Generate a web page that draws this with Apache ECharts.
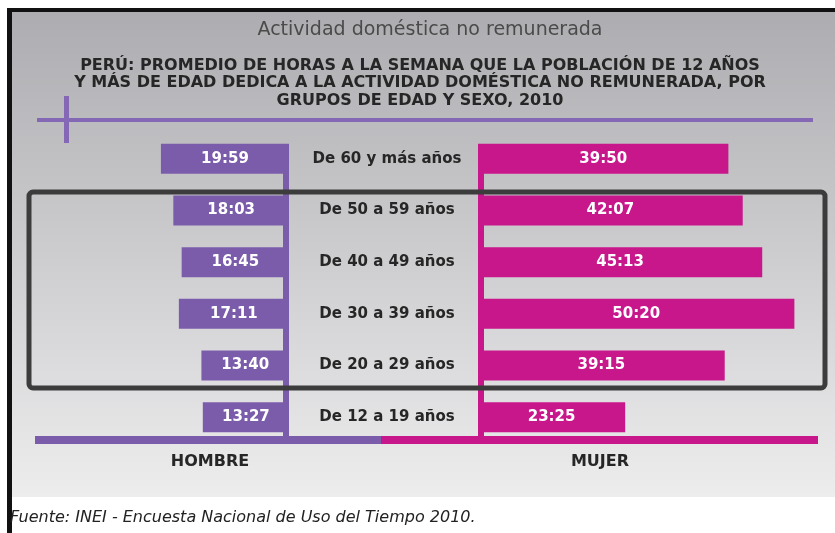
<!DOCTYPE html>
<html>
<head>
<meta charset="utf-8">
<script src="https://cdn.jsdelivr.net/npm/echarts@6/dist/echarts.min.js"></script>
<style>
  html, body { margin: 0; padding: 0; background: #fff; }
  #chart { width: 835px; height: 533px; }
</style>
</head>
<body>
<div id="chart"></div>
<script>
// grupos de edad, de arriba hacia abajo
var categories = ['De 60 y más años', 'De 50 a 59 años', 'De 40 a 49 años', 'De 30 a 39 años', 'De 20 a 29 años', 'De 12 a 19 años'];
// horas:minutos por semana
var hombre = ['19:59', '18:03', '16:45', '17:11', '13:40', '13:27'];
var mujer = ['39:50', '42:07', '45:13', '50:20', '39:15', '23:25'];

var PURPLE = '#7b5cab';
var MAGENTA = '#c8168b';
var FONT = '"DejaVu Sans"';

function toHours(s) {
    var p = s.split(':');
    return +p[0] + (+p[1]) / 60;
}

function barData(list) {
    return list.map(function (s) {
        return { value: toHours(s), text: s };
    });
}

var chart = echarts.init(document.getElementById('chart'));

var option = {
    animation: false,
    backgroundColor: '#ffffff',
    graphic: [
        // fondo gris degradado
        {
            type: 'rect', z: -10, silent: true,
            shape: { x: 12, y: 12, width: 823, height: 485 },
            style: {
                fill: new echarts.graphic.LinearGradient(0, 0, 0, 1, [
                    { offset: 0, color: '#adadb1' },
                    { offset: 1, color: '#ededee' }
                ])
            }
        },
        // marco negro
        { type: 'rect', z: -5, silent: true, shape: { x: 8, y: 8, width: 827, height: 4 }, style: { fill: '#111' } },
        { type: 'rect', z: -5, silent: true, shape: { x: 7, y: 8, width: 5, height: 525 }, style: { fill: '#111' } },
        // linea morada superior
        { type: 'rect', silent: true, shape: { x: 37, y: 118, width: 776, height: 4 }, style: { fill: '#8467b5' } },
        { type: 'rect', silent: true, shape: { x: 64, y: 96, width: 5, height: 47 }, style: { fill: '#8467b5' } },
        // ejes centrales
        { type: 'rect', silent: true, shape: { x: 283, y: 145, width: 6, height: 295 }, style: { fill: PURPLE } },
        { type: 'rect', silent: true, shape: { x: 478, y: 145, width: 6, height: 295 }, style: { fill: MAGENTA } },
        // barra inferior
        { type: 'rect', silent: true, shape: { x: 35, y: 436, width: 346, height: 8 }, style: { fill: PURPLE } },
        { type: 'rect', silent: true, shape: { x: 381, y: 436, width: 437, height: 8 }, style: { fill: MAGENTA } },
        // recuadro
        {
            type: 'rect', z: 100, silent: true,
            shape: { x: 29, y: 192, width: 796, height: 196, r: 4 },
            style: { fill: 'none', stroke: '#3c3c3c', lineWidth: 5 }
        },
        // textos
        {
            type: 'text', silent: true, x: 430, y: 30,
            style: { text: 'Actividad doméstica no remunerada', fill: '#4a4a4a', font: '19px ' + FONT, textAlign: 'center', textVerticalAlign: 'middle' }
        },
        {
            type: 'text', silent: true, x: 420, y: 57,
            style: {
                text: 'PERÚ: PROMEDIO DE HORAS A LA SEMANA QUE LA POBLACIÓN DE 12 AÑOS\nY MÁS DE EDAD DEDICA A LA ACTIVIDAD DOMÉSTICA NO REMUNERADA, POR\nGRUPOS DE EDAD Y SEXO, 2010',
                fill: '#262626', font: 'bold 16px ' + FONT, lineHeight: 17.5, textAlign: 'center'
            }
        },
        {
            type: 'text', silent: true, x: 210, y: 462,
            style: { text: 'HOMBRE', fill: '#262626', font: 'bold 16px ' + FONT, textAlign: 'center', textVerticalAlign: 'middle' }
        },
        {
            type: 'text', silent: true, x: 600, y: 462,
            style: { text: 'MUJER', fill: '#262626', font: 'bold 16px ' + FONT, textAlign: 'center', textVerticalAlign: 'middle' }
        },
        {
            type: 'text', silent: true, x: 10, y: 518,
            style: { text: 'Fuente: INEI - Encuesta Nacional de Uso del Tiempo 2010.', fill: '#222', font: 'italic 16px ' + FONT, textVerticalAlign: 'middle' }
        }
    ],
    grid: [
        { left: 148, width: 141, top: 133, height: 310 },
        { left: 478, width: 352, top: 133, height: 310 }
    ],
    xAxis: [
        { gridIndex: 0, type: 'value', min: 0, max: 22, inverse: true, show: false },
        { gridIndex: 1, type: 'value', min: 0, max: 56, show: false }
    ],
    yAxis: [
        {
            gridIndex: 0, type: 'category', data: categories, inverse: true, position: 'right',
            axisLine: { show: false }, axisTick: { show: false }, axisLabel: { show: false }
        },
        {
            gridIndex: 1, type: 'category', data: categories, inverse: true, position: 'left',
            axisLine: { show: false }, axisTick: { show: false },
            axisLabel: {
                show: true, align: 'center', margin: 91,
                color: '#262626', fontFamily: 'DejaVu Sans', fontWeight: 'bold', fontSize: 15
            }
        }
    ],
    series: [
        {
            name: 'HOMBRE', type: 'bar', xAxisIndex: 0, yAxisIndex: 0,
            data: barData(hombre), barWidth: 30,
            itemStyle: { color: PURPLE },
            label: {
                show: true, position: 'inside', color: '#fff',
                fontFamily: 'DejaVu Sans', fontWeight: 'bold', fontSize: 15,
                formatter: function (p) { return p.data.text; }
            }
        },
        {
            name: 'MUJER', type: 'bar', xAxisIndex: 1, yAxisIndex: 1,
            data: barData(mujer), barWidth: 30,
            itemStyle: { color: MAGENTA },
            label: {
                show: true, position: 'inside', color: '#fff',
                fontFamily: 'DejaVu Sans', fontWeight: 'bold', fontSize: 15,
                formatter: function (p) { return p.data.text; }
            }
        }
    ]
};

chart.setOption(option);
</script>
</body>
</html>
